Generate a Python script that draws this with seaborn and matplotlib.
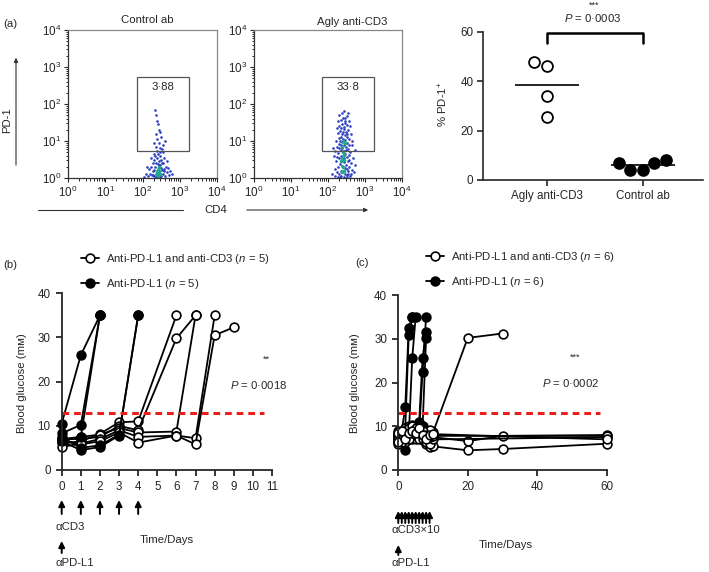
import numpy as np
import pandas as pd
import matplotlib
matplotlib.use("Agg")
import matplotlib.pyplot as plt
import seaborn as sns
from matplotlib.lines import Line2D
from matplotlib.patches import Rectangle, FancyArrowPatch
from matplotlib.ticker import LogLocator, NullFormatter

sns.set_style("ticks")
plt.rcParams["font.family"] = ["Liberation Sans", "DejaVu Sans"]
plt.rcParams["mathtext.fontset"] = "custom"
plt.rcParams["mathtext.rm"] = "Liberation Sans"
plt.rcParams["mathtext.it"] = "Liberation Sans:italic"
plt.rcParams["font.size"] = 8.2
plt.rcParams["axes.linewidth"] = 1.0

FS = 8.2
TFS = 8.4

# ---------------- data ----------------
# (a) flow cytometry events, (log10 CD4, log10 PD-1)
ctrl_events = [(2.30,0.05),(2.35,0.10),(2.40,0.08),(2.45,0.15),(2.50,0.05),(2.38,0.20),(2.42,0.25),
               (2.33,0.30),(2.47,0.35),(2.52,0.22),(2.28,0.18),(2.25,0.08),(2.55,0.12),(2.60,0.06),
               (2.20,0.12),(2.36,0.40),(2.44,0.45),(2.50,0.50),(2.40,0.55),(2.48,0.60),(2.32,0.50),
               (2.56,0.40),(2.62,0.30),(2.15,0.05),(2.18,0.25),(2.65,0.15),(2.70,0.08),(2.10,0.10),
               (2.42,0.65),(2.38,0.72),(2.46,0.70),(2.52,0.78),(2.35,0.85),(2.58,0.55),(2.30,0.65),
               (2.27,0.40),(2.55,0.90),(2.44,0.95),(2.40,1.05),(2.50,1.10),(2.36,1.20),(2.45,1.30),
               (2.42,1.45),(2.38,1.55),(2.35,1.70),(2.33,1.85),(2.48,1.25),(2.60,1.00),(2.75,0.20),
               (2.05,0.02),(2.80,0.10),(2.22,0.55),(2.67,0.45),(2.30,0.95),(2.55,0.70),(2.43,0.35),
               (2.37,0.02),(2.47,0.03),(2.57,0.25),(2.23,0.30),(2.31,0.22),(2.49,0.28),(2.53,0.40),
               (2.29,0.07),(2.58,0.18),(2.34,0.60),(2.46,0.82),(2.12,0.30),(2.68,0.28),(2.41,0.38)]
ctrl_dense = [(2.40,0.10),(2.45,0.20),(2.42,0.05),(2.48,0.12),(2.38,0.15),(2.44,0.30),(2.41,0.22)]
agly_events = [(2.20,0.05),(2.25,0.15),(2.30,0.10),(2.35,0.05),(2.40,0.20),(2.45,0.12),(2.50,0.08),
               (2.55,0.18),(2.60,0.05),(2.65,0.22),(2.28,0.30),(2.33,0.38),(2.38,0.32),(2.43,0.42),
               (2.48,0.35),(2.53,0.45),(2.58,0.30),(2.22,0.45),(2.62,0.40),(2.30,0.55),(2.36,0.60),
               (2.41,0.52),(2.46,0.65),(2.51,0.58),(2.56,0.62),(2.26,0.68),(2.34,0.75),(2.39,0.80),
               (2.44,0.72),(2.49,0.85),(2.54,0.78),(2.60,0.70),(2.24,0.85),(2.31,0.92),(2.37,0.98),
               (2.42,0.90),(2.47,1.02),(2.52,0.95),(2.58,0.88),(2.29,1.08),(2.35,1.12),(2.40,1.05),
               (2.45,1.15),(2.50,1.10),(2.56,1.05),(2.27,1.22),(2.33,1.28),(2.38,1.20),(2.43,1.32),
               (2.49,1.25),(2.55,1.30),(2.31,1.40),(2.37,1.45),(2.42,1.38),(2.47,1.50),(2.52,1.42),
               (2.35,1.58),(2.40,1.62),(2.45,1.55),(2.50,1.68),(2.38,1.75),(2.44,1.82),(2.30,1.70),
               (2.18,0.25),(2.16,0.60),(2.70,0.15),(2.68,0.55),(2.66,0.90),(2.21,1.00),(2.62,1.18),
               (2.25,1.35),(2.58,1.55),(2.34,0.20),(2.46,0.28),(2.52,0.25),(2.39,0.48),(2.44,0.55),
               (2.36,0.88),(2.48,0.75),(2.41,1.25),(2.32,0.02),(2.42,0.03),(2.52,0.02),(2.62,0.12),
               (2.27,0.02),(2.12,0.10),(2.74,0.35),(2.72,0.75),(2.14,0.80),(2.55,1.75),(2.28,1.55),
               (2.60,1.40),(2.23,0.58),(2.57,0.48),(2.33,1.00),(2.51,1.20),(2.19,0.72),(2.64,1.00),
               (2.36,1.35),(2.47,1.62),(2.29,0.82),(2.54,0.12)]
agly_dense = [(2.38,0.55),(2.42,0.62),(2.40,0.70),(2.36,0.45),(2.44,0.50),(2.41,0.30),(2.39,0.15),
              (2.43,0.20),(2.37,0.85),(2.45,0.95),(2.40,1.00)]
ctrl_gate_pct = "3·88"
agly_gate_pct = "33·8"

# (a) right: % PD-1+
pd1_groups = ["Agly anti-CD3", "Control ab"]
agly_pd1 = [46.3, 47.8, 33.8, 25.3]
ctrl_pd1 = [8.2, 7.0, 3.9, 3.9, 7.0]

# (b) blood glucose
b_open_days = [[0,1,2,3,4,6],
               [0,1,2,3,4,6,7],
               [0,1,2,3,4,6,7],
               [0,1,2,3,4,6,7,8],
               [0,1,2,3,4,6,7,8,9]]
b_open_vals = [[6.0,6.5,8.2,10.8,11.0,35],
               [7.0,7.0,7.5,10.0,9.0,29.8,35],
               [6.5,7.5,8.0,9.5,8.5,8.7,35],
               [5.2,6.0,7.0,9.0,7.5,7.8,7.2,35],
               [6.8,5.8,6.5,8.5,6.2,7.8,5.8,30.5,32.3]]
b_fill_days = [[0,1,2],
               [0,1,2],
               [0,1,2],
               [0,1,2,3,4],
               [0,1,2,3,4]]
b_fill_vals = [[10.5,26.0,35],
               [8.3,10.2,35],
               [7.0,7.5,35],
               [6.5,4.5,5.2,7.8,35],
               [7.4,5.0,5.6,8.0,35]]
b_cd3_days = [0,1,2,3,4]

# (c) blood glucose
c_open_days = [[0,1,2,3,4,5,6,7,8,9,10,20,30],
               [0,1,2,3,4,5,6,7,8,9,10,20,30,60],
               [0,1,2,3,4,5,6,7,8,9,10,20,30,60],
               [0,1,2,3,4,5,6,7,8,9,10,60],
               [0,1,2,3,4,5,6,7,8,9,10,60],
               [0,1,2,3,4,5,6,7,8,9,10,60]]
c_open_vals = [[7.5,8.5,9.5,10.0,9.8,8.5,8.0,8.2,8.8,9.0,8.6,30.2,31.2],
               [8.0,7.0,8.5,9.0,10.2,9.0,8.5,7.5,7.8,9.2,7.5,6.6,7.8,8.0],
               [6.0,7.5,6.5,8.0,7.5,7.0,7.8,6.8,6.0,5.2,5.4,4.5,4.8,6.0],
               [7.0,6.5,8.0,7.0,8.5,8.0,7.2,7.0,6.5,6.0,7.0,7.5],
               [8.5,8.0,9.0,9.5,10.0,9.5,8.8,9.0,8.0,7.5,7.8,7.8],
               [6.5,9.0,7.0,8.5,9.0,8.5,9.5,8.0,7.2,8.0,8.2,7.0]]
c_fill_days = [[0,1,2,3,4],
               [0,1,2,3,4],
               [0,1,2,3,4,5],
               [0,1,2,3,4,5,6,7,8],
               [0,1,2,3,4,5,6,7,8],
               [0,1,2,3,4,5,6,7,8]]
c_fill_vals = [[8.5,9.0,14.3,32.4,35],
               [7.5,8.0,9.5,30.8,35],
               [7.0,7.5,8.0,7.5,25.5,35],
               [6.5,7.0,4.6,7.0,8.0,8.5,9.0,22.5,35],
               [8.0,6.5,7.5,8.0,7.0,8.0,11.0,25.6,31.6],
               [9.0,8.5,7.0,9.0,8.5,7.5,8.0,10.0,30.2]]
c_cd3_days = [0,1,2,3,4,5,6,7,8,9]
threshold = 13

# ---------------- figure ----------------
W, H = 709, 572
fig = plt.figure(figsize=(W/100, H/100), dpi=100)

def fax(l, t, r, b):
    return fig.add_axes([l/W, 1-b/H, (r-l)/W, (b-t)/H])

def ftxt(x, y, s, **kw):
    kw.setdefault("fontsize", FS)
    kw.setdefault("va", "center")
    fig.text(x/W, 1-y/H, s, **kw)

def long_df(days, vals):
    rows = []
    for i, (d, v) in enumerate(zip(days, vals)):
        for dd, vv in zip(d, v):
            rows.append({"mouse": i, "day": dd, "glucose": vv})
    return pd.DataFrame(rows)

# ---- (a) flow panels ----
def flow(ax, events, dense, gate_label):
    ev = np.array(events); dn = np.array(dense)
    sns.scatterplot(x=10**ev[:, 0], y=10**ev[:, 1], s=3.5, color="#2a3fc0", linewidth=0, ax=ax)
    sns.scatterplot(x=10**dn[:, 0], y=10**dn[:, 1], s=7, color="#22a88a", linewidth=0, ax=ax)
    ax.set_xscale("log"); ax.set_yscale("log")
    ax.set_xlim(1, 1e4); ax.set_ylim(1, 1e4)
    ax.set_xticks([1, 10, 100, 1000, 10000]); ax.set_yticks([1, 10, 100, 1000, 10000])
    for axis in (ax.xaxis, ax.yaxis):
        axis.set_minor_locator(LogLocator(base=10, subs=np.arange(2, 10), numticks=50))
        axis.set_minor_formatter(NullFormatter())
    gx0, gx1, gy0, gy1 = 10**1.84, 10**3.25, 10**0.72, 10**2.73
    ax.add_patch(Rectangle((gx0, gy0), gx1-gx0, gy1-gy0, fill=False, ec="#555555", lw=0.9))
    ax.text(10**2.545, 10**2.45, gate_label, ha="center", va="center", fontsize=FS)
    for s in ax.spines.values():
        s.set_color("#888888"); s.set_linewidth(0.9)
    ax.spines["left"].set_color("#333333"); ax.spines["bottom"].set_color("#333333")
    ax.tick_params(which="major", direction="out", length=3, width=0.8, labelsize=TFS, pad=2)
    ax.tick_params(which="minor", direction="out", length=1.8, width=0.7)
    ax.set_xlabel(""); ax.set_ylabel("")

ax1 = fax(68, 30, 217, 178)
flow(ax1, ctrl_events, ctrl_dense, ctrl_gate_pct)
ax2 = fax(254, 30, 402, 178)
flow(ax2, agly_events, agly_dense, agly_gate_pct)
ftxt(147, 20, "Control ab", ha="center")
ftxt(352, 22, "Agly anti-CD3", ha="center")
ftxt(3, 24, "(a)", ha="left")
ftxt(7, 120, "PD-1", ha="center", rotation=90)
fig.add_artist(FancyArrowPatch((16/W, 1-168/H), (16/W, 1-55/H), transform=fig.transFigure,
               arrowstyle="-|>", mutation_scale=6, lw=0.8, color="#333333"))
ftxt(216, 210, "CD4", ha="center")
fig.add_artist(Line2D([38/W, 183/W], [1-210/H, 1-210/H], transform=fig.transFigure, lw=0.8, color="#333333"))
fig.add_artist(FancyArrowPatch((244/W, 1-210/H), (371/W, 1-210/H), transform=fig.transFigure,
               arrowstyle="-|>", mutation_scale=6, lw=0.8, color="#333333"))

# ---- (a) right: % PD-1+ ----
ax3 = fax(483, 31.7, 703, 180)
sns.swarmplot(x=[pd1_groups[0]]*len(agly_pd1), y=agly_pd1, order=pd1_groups, color="white",
              edgecolor="black", linewidth=1.3, size=7.8, ax=ax3)
sns.swarmplot(x=[pd1_groups[1]]*len(ctrl_pd1), y=ctrl_pd1, order=pd1_groups, color="black",
              edgecolor="black", linewidth=1.3, size=7.8, ax=ax3)
ax3.hlines(np.mean(agly_pd1), -0.33, 0.33, color="black", lw=1.2)
ax3.hlines(np.mean(ctrl_pd1), 1-0.33, 1+0.33, color="black", lw=1.2)
ax3.set_xlim(-0.667, 1.625); ax3.set_ylim(0, 60)
ax3.set_yticks([0, 20, 40, 60])
sns.despine(ax=ax3)
ax3.spines["left"].set_linewidth(1.2); ax3.spines["bottom"].set_linewidth(1.2)
ax3.tick_params(direction="out", length=4, width=1.2, labelsize=TFS, pad=3)
ax3.set_ylabel(""); ax3.set_xlabel("")
ax3.plot([0, 0, 1, 1], [55.4, 59.5, 59.5, 55.4], color="black", lw=1.8, clip_on=False)
ftxt(443, 104, "% PD-1$^{+}$", ha="center", rotation=90)
ftxt(594, 5, "***", ha="center", fontsize=6.5)
ftxt(593, 18, "$P$ = 0·0003", ha="center")

# ---- glucose panels ----
open_kw = dict(color="black", marker="o", markerfacecolor="white", mec="black", mew=1.2,
               markersize=6.3, lw=1.3, clip_on=False)
fill_kw = dict(color="black", marker="o", markerfacecolor="black", mec="black", mew=1.2,
               markersize=6.3, lw=1.3, clip_on=False)

def glucose_axis(ax, xmax, xticks):
    ax.set_xlim(0, xmax); ax.set_ylim(0, 40)
    ax.set_xticks(xticks); ax.set_yticks([0, 10, 20, 30, 40])
    sns.despine(ax=ax)
    ax.spines["left"].set_linewidth(1.3); ax.spines["bottom"].set_linewidth(1.3)
    ax.tick_params(direction="out", length=4, width=1.3, labelsize=TFS, pad=4)
    ax.set_xlabel(""); ax.set_ylabel("")

def up_arrow(ax, x, y_bot, y_top):
    ax.annotate("", xy=(x, H-y_top), xycoords=("data", "figure pixels"),
                xytext=(x, H-y_bot), textcoords=("data", "figure pixels"),
                arrowprops=dict(arrowstyle="-|>", color="black", lw=1.4, mutation_scale=9,
                                shrinkA=0, shrinkB=0), annotation_clip=False)

h_open = Line2D([], [], **{k: v for k, v in open_kw.items() if k != "clip_on"})
h_fill = Line2D([], [], **{k: v for k, v in fill_kw.items() if k != "clip_on"})

# (b)
axb = fax(61.7, 293.3, 272, 470)
sns.lineplot(data=long_df(b_open_days, b_open_vals), x="day", y="glucose", units="mouse",
             estimator=None, ax=axb, **open_kw)
sns.lineplot(data=long_df(b_fill_days, b_fill_vals), x="day", y="glucose", units="mouse",
             estimator=None, ax=axb, **fill_kw)
axb.plot([0, 10.6], [threshold, threshold], color="#e8201c", lw=2.2, ls=(0, (2.2, 1.6)))
glucose_axis(axb, 11, list(range(12)))
axb.text(10.7, 25, "**", ha="center", va="center", fontsize=6.5)
axb.text(10.3, 19.2, "$P$ = 0·0018", ha="center", va="center", fontsize=FS)
for d in b_cd3_days:
    up_arrow(axb, d, 514, 500)
up_arrow(axb, 0, 553, 541)
ftxt(55, 527, "αCD3", ha="left")
ftxt(56, 563, "αPD-L1", ha="left")
ftxt(140, 540, "Time/Days", ha="left")
ftxt(22, 383, "Blood glucose (mᴍ)", ha="center", rotation=90)
ftxt(3, 265, "(b)", ha="left")
fig.legend([h_open, h_fill], ["Anti-PD-L1 and anti-CD3 ($n$ = 5)", "Anti-PD-L1 ($n$ = 5)"],
           loc="upper left", bbox_to_anchor=(71/W, 1-242/H), frameon=False, handlelength=1.6,
           handletextpad=0.55, labelspacing=0.95, borderpad=0.4, fontsize=FS)

# (c)
axc = fax(398.3, 295, 606.7, 470)
sns.lineplot(data=long_df(c_fill_days, c_fill_vals), x="day", y="glucose", units="mouse",
             estimator=None, ax=axc, **fill_kw)
sns.lineplot(data=long_df(c_open_days, c_open_vals), x="day", y="glucose", units="mouse",
             estimator=None, ax=axc, **open_kw)
axc.plot([0, 58], [threshold, threshold], color="#e8201c", lw=2.2, ls=(0, (2.2, 1.6)))
glucose_axis(axc, 60, [0, 20, 40, 60])
axc.text(51, 25.8, "***", ha="center", va="center", fontsize=6.5)
axc.text(49.5, 19.8, "$P$ = 0·0002", ha="center", va="center", fontsize=FS)
for d in c_cd3_days:
    up_arrow(axc, d, 523, 511)
up_arrow(axc, 0, 555, 545)
ftxt(392, 530, "αCD3×10", ha="left")
ftxt(392, 563, "αPD-L1", ha="left")
ftxt(479, 545, "Time/Days", ha="left")
ftxt(355, 383, "Blood glucose (mᴍ)", ha="center", rotation=90)
ftxt(355, 263, "(c)", ha="left")
fig.legend([h_open, h_fill], ["Anti-PD-L1 and anti-CD3 ($n$ = 6)", "Anti-PD-L1 ($n$ = 6)"],
           loc="upper left", bbox_to_anchor=(416/W, 1-240/H), frameon=False, handlelength=1.6,
           handletextpad=0.55, labelspacing=0.95, borderpad=0.4, fontsize=FS)

fig.savefig("out.png", dpi=100)
